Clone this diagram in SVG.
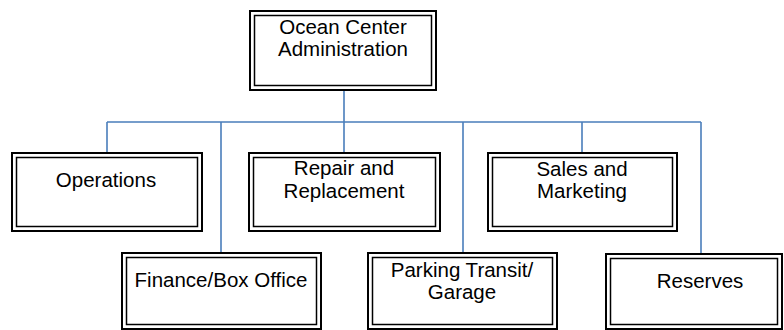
<svg xmlns="http://www.w3.org/2000/svg" width="784" height="330" viewBox="0 0 784 330">
<style>
.o{fill:#fff;stroke:#000;stroke-width:2}
.i{fill:none;stroke:#000;stroke-width:1.5}
.t{font-family:"Liberation Sans",Arial,sans-serif;font-size:20.5px;fill:#000;text-anchor:middle}
.c{fill:none;stroke:#4a7ebb;stroke-width:1.6}
</style>
<rect width="784" height="330" fill="#fff"/>
<g id="connectors">
<path class="c" d="M344,91V122M107,122H701M107,122V152M221,122V252M344,122V152M463,122V252M582,122V152M701,122V253"/>
</g>
<g id="admin">
<rect class="o" x="250" y="11" width="186" height="79"/>
<rect class="i" x="254.5" y="15.5" width="177" height="70"/>
<text class="t" x="343" y="34">Ocean Center</text>
<text class="t" x="343" y="56">Administration</text>
</g>
<g id="operations">
<rect class="o" x="12" y="153" width="190" height="78"/>
<rect class="i" x="16.5" y="157.5" width="181" height="69"/>
<text class="t" x="106" y="187">Operations</text>
</g>
<g id="repair">
<rect class="o" x="249" y="153" width="191" height="78"/>
<rect class="i" x="253.5" y="157.5" width="182" height="69"/>
<text class="t" x="344" y="175">Repair and</text>
<text class="t" x="344" y="198">Replacement</text>
</g>
<g id="sales">
<rect class="o" x="488" y="153" width="189" height="78"/>
<rect class="i" x="492.5" y="157.5" width="180" height="69"/>
<text class="t" x="582" y="176">Sales and</text>
<text class="t" x="582" y="198">Marketing</text>
</g>
<g id="finance">
<rect class="o" x="122" y="253" width="199" height="76"/>
<rect class="i" x="126.5" y="257.5" width="190" height="67"/>
<text class="t" x="221" y="287">Finance/Box Office</text>
</g>
<g id="parking">
<rect class="o" x="368" y="253" width="189" height="76"/>
<rect class="i" x="372.5" y="257.5" width="180" height="67"/>
<text class="t" x="462" y="277">Parking Transit/</text>
<text class="t" x="462" y="299">Garage</text>
</g>
<g id="reserves">
<rect class="o" x="606" y="254" width="176" height="75"/>
<rect class="i" x="610.5" y="258.5" width="167" height="66"/>
<text class="t" x="700" y="288">Reserves</text>
</g>
</svg>
